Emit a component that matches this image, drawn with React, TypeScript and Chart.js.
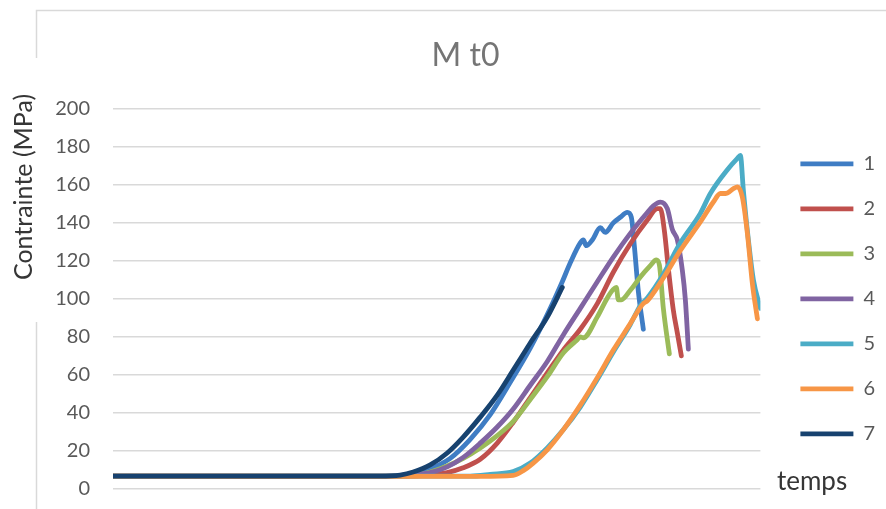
import React, { useEffect, useRef } from 'react';
import { Chart, registerables } from 'chart.js';

Chart.register(...registerables);

const FONT = 'Lato, "Open Sans", sans-serif';

const chartTitle = 'M t0';
const yAxisTitle = 'Contrainte (MPa)';
const xAxisTitle = 'temps';
const seriesNames = ['1', '2', '3', '4', '5', '6', '7'];
const seriesColors = ['#3F7DC4', '#C0504D', '#9BBB59', '#8064A2', '#4BACC6', '#F79646', '#17426F'];
const yMin = 0;
const yMax = 200;
const yStep = 20;
const tMax = 647;

// Series 1
const s1Time = [0, 267, 297, 317, 337, 357, 377, 397, 417, 437, 449, 457, 467, 470, 473, 479, 487, 492, 500, 507, 514, 518, 521, 525, 530];
const s1Stress = [6.6, 6.6, 7.5, 10.5, 16, 26, 39, 56, 74, 95, 109, 119, 129.5, 131, 128, 131, 137.5, 135, 140, 143, 145.5, 143, 128, 104, 84];
// Series 2
const s2Time = [0, 287, 317, 334, 350, 367, 384, 400, 417, 434, 450, 467, 484, 500, 517, 534, 544, 547, 551, 555, 560, 564, 568];
const s2Stress = [6.6, 6.6, 7.2, 8.5, 11, 15.5, 24, 35, 48, 61, 73, 84, 97.5, 114, 129, 141.5, 147.5, 147.5, 136, 116, 94, 82, 70];
// Series 3
const s3Time = [0, 287, 307, 317, 334, 350, 367, 384, 400, 417, 434, 450, 464, 467, 470, 484, 494, 500, 503, 505, 508, 517, 527, 537, 543, 546, 550, 556];
const s3Stress = [6.6, 6.6, 7.5, 8.8, 12, 16, 21.5, 28, 35.5, 47, 59, 71.5, 78.5, 80, 79.5, 90.5, 100.5, 105, 106, 99.5, 99.5, 104.5, 111.5, 117.5, 120.5, 118, 95, 71];
// Series 4
const s4Time = [0, 282, 302, 317, 334, 350, 367, 384, 400, 417, 434, 450, 467, 484, 500, 517, 534, 540, 547, 554, 559, 564, 569, 572, 575];
const s4Stress = [6.6, 6.6, 7.5, 8.5, 11.5, 16.5, 24, 32.5, 42, 54.5, 67, 81, 95, 109, 122, 134.5, 145.5, 149, 151, 147.5, 136.5, 131, 115, 99.5, 73.5];
// Series 5
const s5Time = [0, 357, 377, 400, 417, 434, 450, 467, 484, 500, 517, 527, 534, 550, 567, 587, 597, 614, 624, 627, 630, 635, 640, 647];
const s5Stress = [6.6, 6.6, 7.5, 9, 13.5, 21.5, 31, 43, 57.5, 72, 86.5, 96.5, 100.5, 113, 129.5, 145, 155.5, 168, 174, 175.5, 157, 131, 110, 95];
// Series 6
const s6Time = [0, 367, 400, 410, 420, 434, 450, 467, 484, 500, 517, 527, 530, 534, 550, 567, 587, 600, 607, 612, 620, 624, 629, 634, 639, 644];
const s6Stress = [6.6, 6.5, 7, 9.5, 13.5, 20.5, 31, 44, 58.5, 73, 87, 95.5, 97.5, 99, 111, 125.5, 140.5, 151, 155.5, 155.5, 158, 159, 153.5, 134.5, 108, 89.5];
// Series 7
const s7Time = [0, 267, 287, 300, 317, 334, 350, 367, 384, 400, 417, 434, 449];
const s7Stress = [6.6, 6.6, 7.2, 8.8, 12.5, 18.8, 27.2, 37.7, 49.3, 62.5, 76.7, 90.4, 106];

const seriesTimes = [s1Time, s2Time, s3Time, s4Time, s5Time, s6Time, s7Time];
const seriesStress = [s1Stress, s2Stress, s3Stress, s4Stress, s5Stress, s6Stress, s7Stress];

const decorPlugin = {
  id: 'decor',
  beforeDraw(chart: any) {
    const ctx = chart.ctx;
    ctx.save();
    ctx.strokeStyle = '#D9D9D9';
    ctx.lineWidth = 1.5;
    ctx.beginPath();
    ctx.moveTo(36.5, 58);
    ctx.lineTo(36.5, 10.5);
    ctx.lineTo(886, 10.5);
    ctx.moveTo(36.5, 322);
    ctx.lineTo(36.5, 509);
    ctx.stroke();
    ctx.restore();
  },
  afterDraw(chart: any) {
    const ctx = chart.ctx;
    ctx.save();
    ctx.fillStyle = '#363636';
    ctx.font = `25px ${FONT}`;
    ctx.textAlign = 'center';
    ctx.textBaseline = 'middle';
    ctx.translate(24, 187);
    ctx.rotate(-Math.PI / 2);
    ctx.fillText(yAxisTitle, 0, 0);
    ctx.restore();

    ctx.save();
    ctx.fillStyle = '#363636';
    ctx.font = `26px ${FONT}`;
    ctx.textAlign = 'left';
    ctx.textBaseline = 'alphabetic';
    ctx.fillText(xAxisTitle, 777, 490);
    ctx.restore();
  },
};

export default function App() {
  const ref = useRef<HTMLCanvasElement>(null);

  useEffect(() => {
    if (!ref.current) return;
    const datasets = seriesNames.map((name, i) => ({
      label: name,
      data: seriesTimes[i].map((t, j) => ({ x: t, y: seriesStress[i][j] })),
      borderColor: seriesColors[i],
      backgroundColor: seriesColors[i],
      borderWidth: 4.8,
      borderCapStyle: 'round' as const,
      borderJoinStyle: 'round' as const,
      pointRadius: 0,
      pointHoverRadius: 0,
      fill: false,
      cubicInterpolationMode: 'monotone' as const,
      order: seriesNames.length - 1 - i,
    }));

    const chart = new Chart(ref.current, {
      type: 'line',
      data: { datasets },
      plugins: [decorPlugin],
      options: {
        responsive: false,
        devicePixelRatio: 1,
        animation: false,
        layout: { padding: { left: 46, right: 1, top: 0, bottom: 20.3 } },
        scales: {
          x: { type: 'linear', min: 0, max: tMax, display: false },
          y: {
            type: 'linear',
            min: yMin,
            max: yMax,
            ticks: { stepSize: yStep, padding: 23, color: '#595959', font: { family: FONT, size: 20 } },
            grid: { color: '#D9D9D9', lineWidth: 1.5, drawTicks: false },
            border: { display: false },
            afterFit: (s: any) => {
              s.width = 67;
              s.paddingTop = 0;
              s.paddingBottom = 0;
            },
          },
          y2: {
            type: 'linear',
            position: 'right',
            display: true,
            grid: { display: false },
            ticks: { display: false },
            border: { display: false },
            afterFit: (s: any) => { s.width = 15; },
          },
        },
        plugins: {
          title: {
            display: true,
            text: chartTitle,
            color: '#757575',
            font: { family: FONT, size: 32, weight: 'normal' },
            padding: { top: 36, bottom: 34.6 },
          },
          legend: {
            position: 'right',
            fullSize: false,
            align: 'center',
            labels: {
              usePointStyle: true,
              pointStyle: 'line',
              pointStyleWidth: 53,
              padding: 25,
              color: '#595959',
              font: { family: FONT, size: 20 },
              sort: (a: any, b: any) => a.datasetIndex - b.datasetIndex,
            },
          },
          tooltip: { enabled: false },
        },
      } as any,
    });
    return () => chart.destroy();
  }, []);

  return (
    <div style={{ position: 'fixed', left: 0, top: 0, width: 886, height: 509, background: '#ffffff' }}>
      <canvas ref={ref} width={886} height={509} style={{ display: 'block', width: 886, height: 509 }} />
    </div>
  );
}
